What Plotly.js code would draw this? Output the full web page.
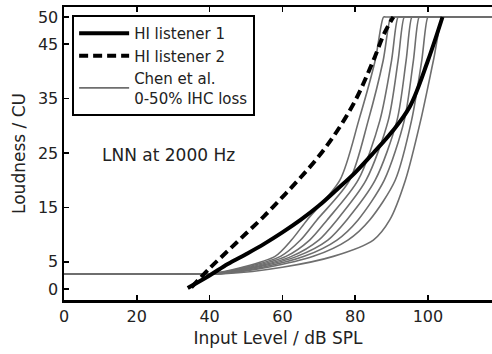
<!DOCTYPE html>
<html>
<head>
<meta charset="utf-8">
<script src="https://cdn.plot.ly/plotly-3.0.1.min.js"></script>
<style>
html,body{margin:0;padding:0;background:#fff;overflow:hidden;}
#chart{width:492px;height:354px;}
</style>
</head>
<body>
<div id="chart"></div>
<script>
// HI listener 1 (solid)
var hi1X = [34, 40, 45, 50, 55, 60, 65, 70, 75, 80, 85, 90, 95, 100, 104];
var hi1Y = [0.2, 2.5, 4.6, 6.4, 8.3, 10.4, 12.7, 15.3, 18.3, 21.4, 25.0, 28.8, 33.5, 42, 50];
// HI listener 2 (dashed)
var hi2X = [35, 40, 45, 50, 55, 60, 65, 70, 75, 80, 85, 88, 90.5];
var hi2Y = [0.3, 3.8, 7.0, 10.2, 13.4, 16.9, 20.5, 24.4, 29.0, 34.6, 42.0, 47.0, 50];
// Chen et al. model curves (0-50% IHC loss): loudness levels shared, input levels per curve
var chenY = [2.8, 2.8, 2.8, 4, 6, 9, 12.7, 20, 31, 42, 50, 50, 50];
var chenX1 = [0, 30, 40, 49, 58, 62.5, 66.8, 75.8, 81, 85.5, 87.8, 88.4, 118];
var chenX2 = [0, 30, 40.5, 50, 59.5, 65, 69.5, 78.5, 83.6, 87.7, 89.8, 90.4, 118];
var chenX3 = [0, 30, 41, 51, 61, 67.5, 72.3, 80.8, 86.8, 90, 91.8, 92.4, 118];
var chenX4 = [0, 30, 41.5, 52, 62.5, 70, 75, 83, 89.1, 91.8, 93.5, 94.1, 118];
var chenX5 = [0, 30, 42, 53, 64, 72.5, 77.7, 85.5, 91.5, 94, 95.6, 96.2, 118];
var chenX6 = [0, 30, 42.5, 54.5, 66, 75, 80.8, 88, 93.5, 96, 97.6, 98.2, 118];
var chenX7 = [0, 30, 43, 56, 68.5, 78, 84, 91, 95.5, 98.3, 100, 100.6, 118];
var chenX8 = [0, 30, 44, 60, 74, 85, 89.5, 93.8, 98, 101.5, 104, 104.6, 118];
var chenXs = [chenX1, chenX2, chenX3, chenX4, chenX5, chenX6, chenX7, chenX8];

var xTicks = [0, 20, 40, 60, 80, 100];
var yTicks = [0, 5, 15, 25, 35, 45, 50];

var traces = [];
chenXs.forEach(function (xs, i) {
  traces.push({
    x: xs, y: chenY, type: 'scatter', mode: 'lines',
    line: {color: '#6e6e6e', width: 1.6, shape: 'spline', smoothing: 0.8},
    name: 'Chen et al.<br>0-50% IHC loss',
    showlegend: i === 0, legendrank: 3, hoverinfo: 'skip'
  });
});
traces.push({
  x: hi1X, y: hi1Y, type: 'scatter', mode: 'lines',
  line: {color: '#000', width: 4, shape: 'spline', smoothing: 1},
  name: 'HI listener 1', legendrank: 1
});
traces.push({
  x: hi2X, y: hi2Y, type: 'scatter', mode: 'lines',
  line: {color: '#000', width: 4, dash: '9px,5px', shape: 'spline', smoothing: 1},
  name: 'HI listener 2', legendrank: 2
});

var fontFam = 'DejaVu Sans, Liberation Sans, Arial, sans-serif';
var layout = {
  width: 492, height: 354,
  margin: {l: 64, r: 0, t: 7, b: 54},
  paper_bgcolor: '#fff', plot_bgcolor: '#fff',
  font: {family: fontFam, size: 15, color: '#222'},
  showlegend: true,
  xaxis: {
    range: [0, 117.6], tickvals: xTicks, ticktext: xTicks.map(String),
    ticks: 'inside', ticklen: 5, tickwidth: 1.5, tickcolor: '#000',
    showline: true, linecolor: '#000', linewidth: 2.5, mirror: 'ticks',
    showgrid: false, zeroline: false,
    tickfont: {size: 16, family: fontFam, color: '#222'},
    title: {text: 'Input Level / dB SPL', font: {size: 17, family: fontFam, color: '#222'}, standoff: 8}
  },
  yaxis: {
    range: [-2.02, 51.84], tickvals: yTicks, ticktext: yTicks.map(String),
    ticks: 'inside', ticklen: 5, tickwidth: 1.5, tickcolor: '#000',
    showline: true, linecolor: '#000', linewidth: 2.5, mirror: false,
    showgrid: false, zeroline: false,
    tickfont: {size: 16, family: fontFam, color: '#222'},
    title: {text: 'Loudness / CU', font: {size: 17, family: fontFam, color: '#222'}, standoff: 8}
  },
  legend: {
    x: 0.019, y: 0.973, xanchor: 'left', yanchor: 'top',
    bgcolor: '#fff', bordercolor: '#000', borderwidth: 2,
    font: {size: 15, family: fontFam, color: '#222'},
    itemwidth: 50, tracegroupgap: 0
  },
  annotations: [{
    x: 28.6, y: 24.6, xref: 'x', yref: 'y', text: 'LNN at 2000 Hz',
    showarrow: false, font: {size: 17, family: fontFam, color: '#222'}
  }]
};

Plotly.newPlot('chart', traces, layout, {displayModeBar: false, staticPlot: true});
</script>
</body>
</html>
